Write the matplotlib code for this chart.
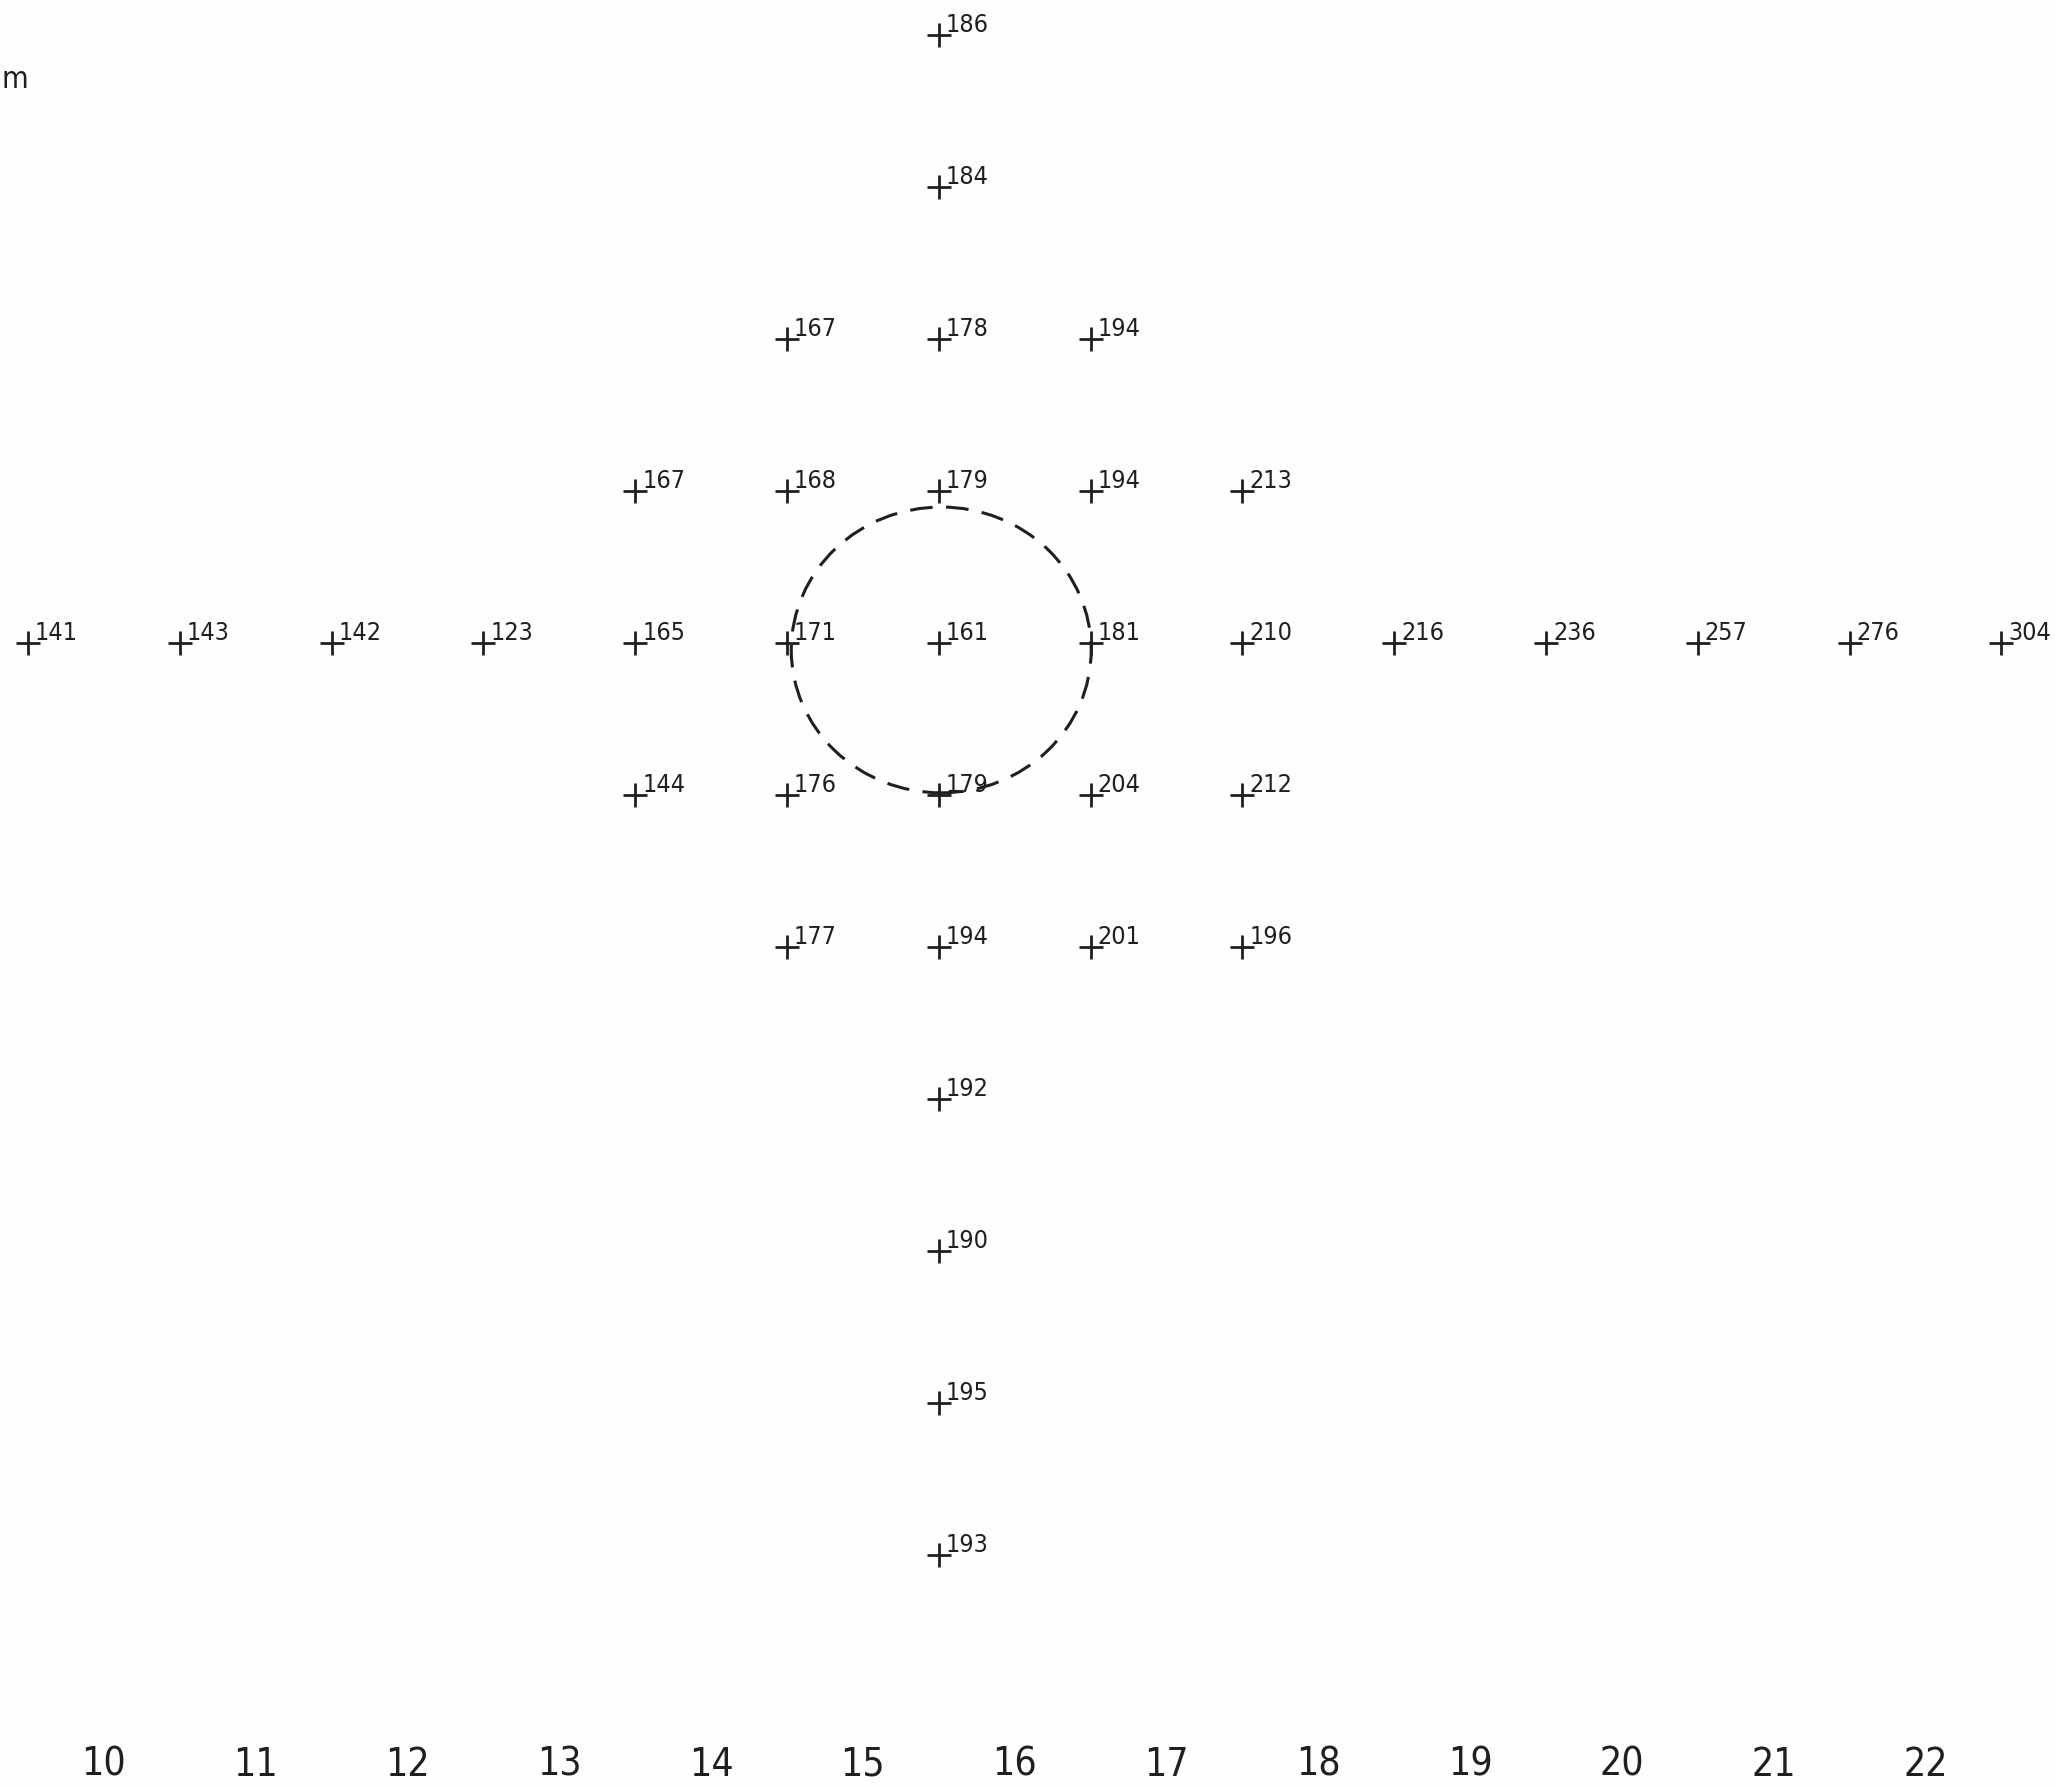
import matplotlib.pyplot as plt
from matplotlib.patches import Ellipse

# grid positions (x = column, y = row offset from the centre line)
x_pos = [15.5,
         15.5,
         14.5, 15.5, 16.5,
         13.5, 14.5, 15.5, 16.5, 17.5,
         9.5, 10.5, 11.5, 12.5, 13.5, 14.5, 15.5, 16.5, 17.5, 18.5, 19.5, 20.5, 21.5, 22.5,
         13.5, 14.5, 15.5, 16.5, 17.5,
         14.5, 15.5, 16.5, 17.5,
         15.5,
         15.5,
         15.5,
         15.5]
y_pos = [4,
         3,
         2, 2, 2,
         1, 1, 1, 1, 1,
         0, 0, 0, 0, 0, 0, 0, 0, 0, 0, 0, 0, 0, 0,
         -1, -1, -1, -1, -1,
         -2, -2, -2, -2,
         -3,
         -4,
         -5,
         -6]
values = [186,
          184,
          167, 178, 194,
          167, 168, 179, 194, 213,
          141, 143, 142, 123, 165, 171, 161, 181, 210, 216, 236, 257, 276, 304,
          144, 176, 179, 204, 212,
          177, 194, 201, 196,
          192,
          190,
          195,
          193]
x_ticks = list(range(10, 23))

ink = "#1f1f1f"
plt.rcParams["font.family"] = ["DejaVu Sans"]
plt.rcParams["font.stretch"] = "condensed"

fig = plt.figure(figsize=(20.55, 17.86), dpi=100)
fig.patch.set_facecolor("#fdfdfd")
ax = fig.add_axes([0, 0, 1, 1])
ax.set_facecolor("#fdfdfd")

ax.plot(x_pos, y_pos, linestyle="none", marker="+", markersize=17.5,
        markeredgewidth=2.0, color=ink)

for x, y, v in zip(x_pos, y_pos, values):
    ax.annotate(str(v), (x, y), xytext=(5, 2), textcoords="offset points",
                ha="left", va="baseline", fontsize=18, color=ink,
                fontstretch="condensed")

# dashed ring around the centre point
ring = Ellipse((15.516, -0.046), 1.976, 1.88, fill=False, edgecolor=ink,
               linewidth=2.2, linestyle=(0, (7.4, 4.4)))
ax.add_patch(ring)

ax.set_xlim(9.3156, 22.853)
ax.set_ylim(-7.52, 4.23)

ax.set_xticks(x_ticks)
ax.set_xticklabels([str(t) for t in x_ticks], fontstretch="condensed")
ax.tick_params(axis="x", length=0, pad=-29, labelsize=28, labelcolor=ink)
ax.set_yticks([])
for s in ax.spines.values():
    s.set_visible(False)

fig.text(1 / 2055, 1 - 88 / 1786, "m", ha="left", va="baseline",
         fontsize=22, color=ink)

fig.savefig("out.png", dpi=100, facecolor=fig.get_facecolor())
